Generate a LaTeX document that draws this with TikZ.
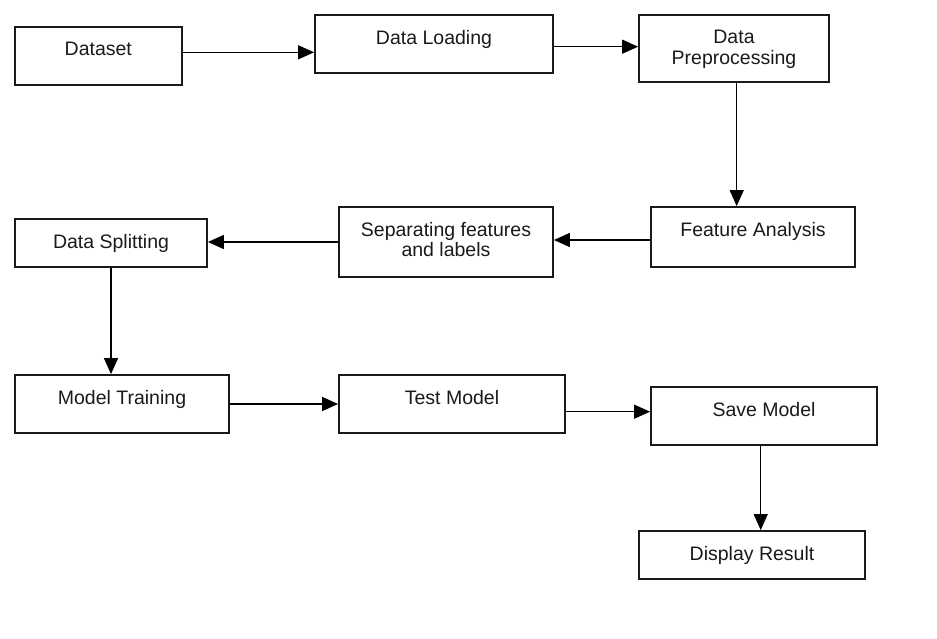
\documentclass[tikz,border=0pt]{standalone}
\usepackage{fontspec}
\setmainfont{Liberation Sans}
\usetikzlibrary{arrows.meta,positioning,calc}
\definecolor{Ink}{HTML}{1A1A1A}

\begin{document}
\begin{tikzpicture}[x=1pt,y=-1pt,
  box/.style={draw=Ink,line width=1.8pt,inner sep=0pt},
  lbl/.style={inner sep=0pt,align=center,text=Ink,font=\fontsize{19.5}{20.5}\selectfont},
  arr/.style={draw=black,line width=1.4pt,-{Triangle[length=16pt,width=14pt]}}]
\useasboundingbox[fill=white] (0,0) rectangle (937,639);
% boxes
\node[box,minimum width=167pt,minimum height=58pt] (dataset) at (98.3,56) {};
\node[box,minimum width=238pt,minimum height=58pt] (loading) at (434,43.8) {};
\node[box,minimum width=190pt,minimum height=67pt] (prep) at (734,48.3) {};
\node[box,minimum width=204pt,minimum height=60pt] (feature) at (753,237) {};
\node[box,minimum width=214pt,minimum height=70pt] (separate) at (446,242) {};
\node[box,minimum width=192pt,minimum height=48pt] (split) at (111,243) {};
\node[box,minimum width=214pt,minimum height=58pt] (train) at (122,404) {};
\node[box,minimum width=226pt,minimum height=58pt] (test) at (452,404) {};
\node[box,minimum width=226pt,minimum height=58pt] (save) at (764,416) {};
\node[box,minimum width=226pt,minimum height=48pt] (display) at (752,555) {};
% labels
\node[lbl,below=16pt of dataset.north] (datasetL) {Dataset};
\node[lbl,below=16pt of loading.north] (loadingL) {Data Loading};
\node[lbl,below=16pt of prep.north] (prepL) {Data\\Preprocessing};
\node[lbl,below=16pt of feature.north] (featureL) {Feature Analysis};
\node[lbl,below=16pt of separate.north] (separateL) {Separating features\\and labels};
\node[lbl,below=16pt of split.north] (splitL) {Data Splitting};
\node[lbl,below=16pt of train.north] (trainL) {Model Training};
\node[lbl,below=16pt of test.north] (testL) {Test Model};
\node[lbl,below=16pt of save.north] (saveL) {Save Model};
\node[lbl,below=16pt of display.north] (displayL) {Display Result};
% flow
\draw[arr] ([yshift=3.7pt]dataset.east) -- ([yshift=3.7pt]dataset.east -| loading.west);
\draw[arr] ([yshift=-2.9pt]loading.east) -- ([yshift=-2.9pt]loading.east -| prep.west);
\draw[arr] ([xshift=2.7pt]prep.south) -- ([xshift=2.7pt]prep.south |- feature.north);
\draw[arr] ([yshift=-3pt]feature.west) -- ([yshift=-3pt]feature.west -| separate.east);
\draw[arr] (separate.west) -- (separate.west -| split.east);
\draw[arr] (split.south) -- (split.south |- train.north);
\draw[arr] (train.east) -- (train.east -| test.west);
\draw[arr] ([yshift=-7.7pt]test.east) -- ([yshift=-7.7pt]test.east -| save.west);
\draw[arr] ([xshift=-3.3pt]save.south) -- ([xshift=-3.3pt]save.south |- display.north);
\end{tikzpicture}
\end{document}
